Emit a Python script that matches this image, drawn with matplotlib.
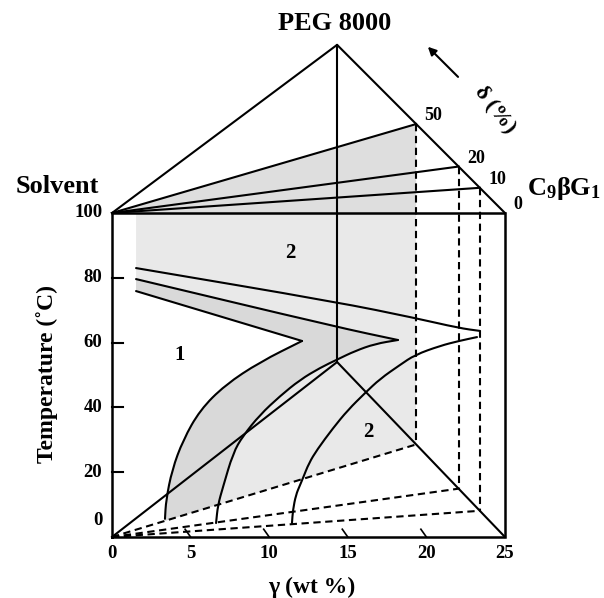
import numpy as np
import matplotlib
matplotlib.use("Agg")
import matplotlib.pyplot as plt
from matplotlib.patches import Polygon, PathPatch
from matplotlib.path import Path

plt.rcParams['font.family'] = ['Liberation Serif', 'DejaVu Serif']
plt.rcParams['font.weight'] = 'bold'
plt.rcParams['mathtext.fontset'] = 'custom'
plt.rcParams['mathtext.rm'] = 'Liberation Serif:bold'
plt.rcParams['mathtext.it'] = 'Liberation Serif:bold'
plt.rcParams['mathtext.bf'] = 'Liberation Serif:bold'

# ---------------- data ----------------
gamma_ticks = [0, 5, 10, 15, 20, 25]
temp_ticks = [0, 20, 40, 60, 80, 100]
delta_labels = ['50', '20', '10', '0']
delta_gamma = [19.35, 22.05, 23.4, 25.0]
peg_gamma = 14.32
peg_top_T = 151.9
peg_base_T = 54.0

# cloud-point curves (gamma wt %, temperature C)
c1_gamma = [3.37, 3.44, 3.82, 4.52, 5.60, 7.19, 9.41, 12.09]
c1_T = [5.6, 11.4, 20.7, 29.9, 39.2, 46.9, 54.0, 60.5]
lineC_gamma = [1.53, 12.09]
lineC_T = [75.9, 60.5]

c2_gamma = [6.62, 6.74, 7.06, 7.70, 8.33, 9.41, 10.69, 11.96, 13.23, 14.38, 15.46, 16.73, 18.19]
c2_T = [4.3, 9.9, 15.4, 25.9, 31.2, 37.7, 43.5, 48.5, 52.2, 54.9, 57.4, 59.6, 60.8]
lineB_gamma = [1.53, 14.31, 18.19]
lineB_T = [79.6, 64.8, 60.8]

c3_gamma = [11.45, 11.51, 11.70, 11.96, 12.15, 12.53, 13.04, 14.06, 15.01, 16.09, 17.05, 18.32,
            19.27, 20.87, 22.07, 23.22]
c3_T = [4.3, 8.3, 13.0, 16.0, 18.2, 22.8, 26.9, 33.6, 39.2, 44.4, 48.8, 53.1, 56.2, 59.0, 60.5, 61.7]
lineA_gamma = [1.53, 14.31, 19.27, 22.07, 23.41]
lineA_T = [83.0, 72.5, 67.6, 64.5, 63.6]

region_labels = ['2', '1', '2']
region_gamma = [11.32, 4.33, 16.28]
region_T = [87.7, 56.2, 32.4]

# ---------------- figure ----------------
fig = plt.figure(figsize=(6.04, 5.98), dpi=100)
ax = fig.add_axes([0, 0, 1, 1])
ax.set_xlim(-7.125, 31.30)
ax.set_ylim(-18.83, 165.74)
ax.axis('off')

LW = 1.5
K = 'black'
DASH = (0, (3.5, 2.2))
GMAX = gamma_ticks[-1]
TMAX = temp_ticks[-1]


def t_top(g):
    return TMAX + (peg_top_T - TMAX) * (GMAX - g) / (GMAX - peg_gamma)


def t_base(g):
    return peg_base_T * (GMAX - g) / (GMAX - peg_gamma)


def smooth_piece(gx, ty, smooth=True):
    """Vertices/codes continuing from the first point through the others,
    optionally with quadratic Bezier smoothing (midpoint scheme)."""
    pts = list(zip(gx, ty))
    n = len(pts)
    verts, codes = [], []
    if n < 3 or not smooth:
        verts += pts[1:]
        codes += [Path.LINETO] * (n - 1)
        return verts, codes
    mid = lambda a, b: ((a[0] + b[0]) / 2, (a[1] + b[1]) / 2)
    verts.append(mid(pts[0], pts[1]))
    codes.append(Path.LINETO)
    for i in range(1, n - 1):
        verts += [pts[i], mid(pts[i], pts[i + 1])]
        codes += [Path.CURVE3, Path.CURVE3]
    verts.append(pts[-1])
    codes.append(Path.LINETO)
    return verts, codes


def build_path(pieces, close=False):
    verts = [(pieces[0][0][0], pieces[0][1][0])]
    codes = [Path.MOVETO]
    for piece in pieces:
        gx, ty = piece[0], piece[1]
        smooth = piece[2] if len(piece) > 2 else True
        if (gx[0], ty[0]) != verts[-1]:
            verts.append((gx[0], ty[0]))
            codes.append(Path.LINETO)
        v, c = smooth_piece(gx, ty, smooth)
        verts += v
        codes += c
    if close:
        verts.append(verts[0])
        codes.append(Path.CLOSEPOLY)
    return Path(verts, codes)


g50 = delta_gamma[0]

# clip region: delta = 50 slab projection
slab = Polygon([(0, 0), (g50, t_base(g50)), (g50, TMAX), (0, TMAX)], closed=True,
               transform=ax.transData, facecolor='none', edgecolor='none')
ax.add_patch(slab)

rev = lambda a: a[::-1]

# light grey two-phase region
light_path = build_path([
    ([lineC_gamma[0], lineC_gamma[0], g50, g50, c1_gamma[0]],
     [lineC_T[0], TMAX, TMAX, -5, -5], False),
    (c1_gamma, c1_T),
    (rev(lineC_gamma), rev(lineC_T)),
], close=True)
p_light = PathPatch(light_path, facecolor='#e9e9e9', edgecolor='none', zorder=1)
ax.add_patch(p_light)
p_light.set_clip_path(slab)

# darker band between curves
dark_path = build_path([
    (lineB_gamma, lineB_T),
    (rev(c2_gamma), rev(c2_T)),
    ([c2_gamma[0], c2_gamma[0], c1_gamma[0], c1_gamma[0]], [c2_T[0], -5, -5, c1_T[0]], False),
    (c1_gamma, c1_T),
    (rev(lineC_gamma), rev(lineC_T)),
], close=True)
p_dark = PathPatch(dark_path, facecolor='#d9d9d9', edgecolor='none', zorder=2)
ax.add_patch(p_dark)
p_dark.set_clip_path(slab)

# top triangle shaded wedge (delta 0..50)
ax.add_patch(Polygon([(0, TMAX), (g50, t_top(g50)), (g50, TMAX)], closed=True,
                     facecolor='#dedede', edgecolor='none', zorder=1))

# box
ax.plot([0, GMAX, GMAX, 0, 0], [0, 0, TMAX, TMAX, 0], color=K, lw=1.8, zorder=5,
        solid_joinstyle='miter')
# top triangle
ax.plot([0, peg_gamma, GMAX], [TMAX, peg_top_T, TMAX], color=K, lw=LW, zorder=5)
# vertical PEG line
ax.plot([peg_gamma, peg_gamma], [peg_top_T, peg_base_T], color=K, lw=LW, zorder=5)
# base triangle edges
ax.plot([0, peg_gamma, GMAX], [0, peg_base_T, 0], color=K, lw=LW, zorder=5)

# delta planes
for g in delta_gamma[:-1]:
    ax.plot([0, g], [TMAX, t_top(g)], color=K, lw=LW, zorder=5)
    ax.plot([g, g], [t_top(g), t_base(g)], color=K, lw=LW, ls=DASH, zorder=5)
    ax.plot([0, g], [0, t_base(g)], color=K, lw=LW, ls=DASH, zorder=5)

for lab, g in zip(delta_labels, delta_gamma):
    ax.annotate(lab, xy=(g, t_top(g)), xytext=(6, 6), textcoords='offset points',
                ha='left', va='center', fontsize=13, fontweight='bold')

# curves
for gx, ty in [(c1_gamma, c1_T), (lineC_gamma, lineC_T), (c2_gamma, c2_T),
               (lineB_gamma, lineB_T), (c3_gamma, c3_T), (lineA_gamma, lineA_T)]:
    ax.add_patch(PathPatch(build_path([(gx, ty)]), facecolor='none', edgecolor=K,
                           lw=LW, zorder=6, capstyle='round', joinstyle='round'))

# y ticks (inward) and labels
for t in temp_ticks[1:-1]:
    ax.plot([0, 0.7], [t, t], color=K, lw=LW, zorder=5)
for t in temp_ticks:
    dy = 12 if t == 0 else 0
    ax.annotate(str(t), xy=(0, t), xytext=(-7, dy), textcoords='offset points',
                ha='right', va='center', fontsize=13.5, fontweight='bold')

# x ticks (slanted) and labels
for g in gamma_ticks[1:-1]:
    ax.plot([g - 0.35, g], [2.4, 0], color=K, lw=1.2, zorder=5)
for g in gamma_ticks:
    ax.annotate(str(g), xy=(g, 0), xytext=(0, -12), textcoords='offset points',
                ha='center', va='center', fontsize=13.5, fontweight='bold')

# region labels
for lab, g, t in zip(region_labels, region_gamma, region_T):
    ax.text(g, t, lab, ha='center', va='center', fontsize=15, fontweight='bold', zorder=7)

# titles / corner labels
ax.text(peg_gamma - 0.13, 158.6, 'PEG 8000', ha='center', va='center', fontsize=19, fontweight='bold')
ax.text(-3.5, 108.3, 'Solvent', ha='center', va='center', fontsize=19, fontweight='bold')
ax.text(26.4, 107.7, r'C$_{9}$βG$_{1}$', ha='left', va='center', fontsize=19, fontweight='bold')
ax.text(24.36, 131.8, 'δ (%)', ha='center', va='center', fontsize=16, fontweight='bold',
        rotation=-52, rotation_mode='anchor')
ax.annotate('', xy=(19.97, 151.9), xytext=(22.14, 141.4),
            arrowprops=dict(arrowstyle='-|>', lw=1.5, color=K, mutation_scale=12))

ax.text(-4.13, 50.3, 'Temperature (˚C)', ha='center', va='center', rotation=90,
        fontsize=17, fontweight='bold')
ax.text(12.72, -15.7, 'γ (wt %)', ha='center', va='center', fontsize=17, fontweight='bold')

fig.savefig('out.png', dpi=100)
